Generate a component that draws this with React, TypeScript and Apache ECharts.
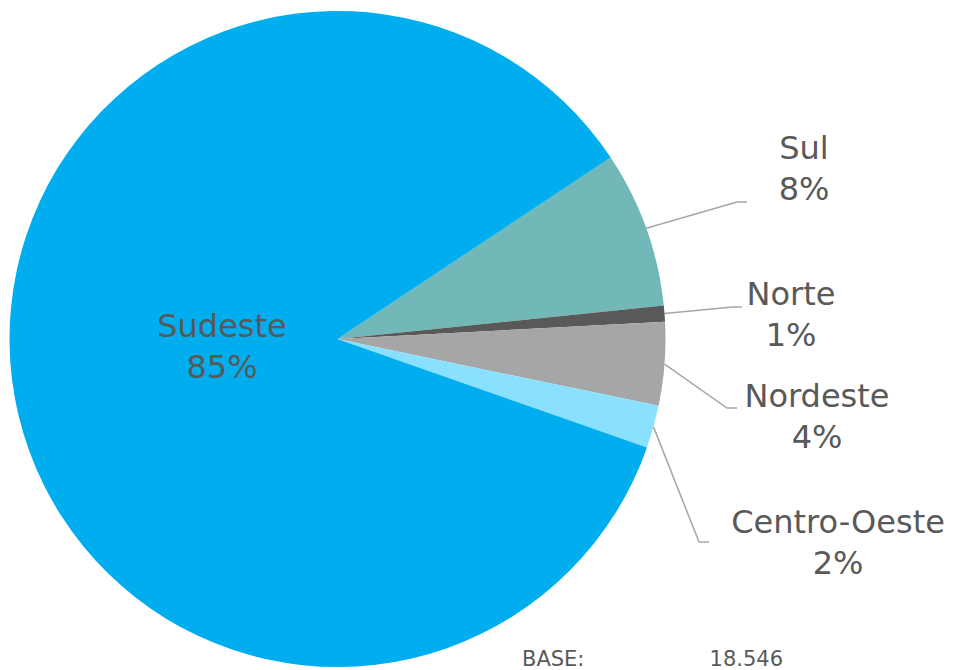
import React, { useEffect, useRef } from "react";
import * as echarts from "echarts";

// ---- data ----
const categories = ["Sul", "Norte", "Nordeste", "Centro-Oeste", "Sudeste"];
const shares = [7.7, 0.8, 4.1, 2.1, 85.3];
const sliceColors = ["#72B8B8", "#595959", "#A6A6A6", "#8AE1FF", "#00AEEF"];
const baseLabel = "BASE:";
const baseValue = "18.546";

// ---- layout (label centres and leader-line bends, px) ----
const labelSpots: Record<string, { x: number; y: number; bend?: number[]; end?: number[] }> = {
  Sul: { x: 804, y: 168, bend: [737, 202], end: [747, 202] },
  Norte: { x: 791, y: 314, bend: [733, 307], end: [742, 307] },
  Nordeste: { x: 817, y: 416, bend: [727, 408], end: [737, 408] },
  "Centro-Oeste": { x: 838, y: 542, bend: [699, 542], end: [709, 542] },
  Sudeste: { x: 222, y: 346 },
};

const FONT = "'DejaVu Sans', sans-serif";
const TEXT = "#595959";

export default function App() {
  const ref = useRef<HTMLDivElement>(null);
  useEffect(() => {
    if (!ref.current) return;
    const chart = echarts.init(ref.current, null, { renderer: "svg" });
    const data = categories.map((name, i) => ({
      name,
      value: shares[i],
      itemStyle: { color: sliceColors[i] },
      labelLine: { show: name !== "Sudeste" },
    }));
    chart.setOption({
      animation: false,
      backgroundColor: "#ffffff",
      series: [
        {
          type: "pie",
          center: [337.5, 339],
          radius: 328,
          startAngle: 33.6,
          clockwise: true,
          avoidLabelOverlap: false,
          data,
          itemStyle: { borderWidth: 0 },
          label: {
            show: true,
            position: "outside",
            color: TEXT,
            fontFamily: FONT,
            fontSize: 32,
            lineHeight: 41,
            formatter: (p: any) => `${p.name}\n${Math.round(p.percent)}%`,
          },
          labelLine: {
            show: true,
            length: 20,
            length2: 10,
            lineStyle: { color: "#A6A6A6", width: 1.5 },
          },
          labelLayout: (params: any) => {
            const name = categories[params.dataIndex];
            const s = labelSpots[name];
            const out: any = { x: s.x, y: s.y, align: "center", verticalAlign: "middle" };
            if (s.bend && s.end) {
              const start =
                params.labelLinePoints && params.labelLinePoints[0]
                  ? params.labelLinePoints[0]
                  : s.bend;
              out.labelLinePoints = [start, s.bend, s.end];
            }
            return out;
          },
        },
      ],
      graphic: [
        {
          type: "text",
          x: 522,
          y: 659,
          style: {
            text: baseLabel,
            fill: TEXT,
            font: `21px ${FONT}`,
            align: "left",
            verticalAlign: "middle",
          },
        },
        {
          type: "text",
          x: 783,
          y: 659,
          style: {
            text: baseValue,
            fill: TEXT,
            font: `21px ${FONT}`,
            align: "right",
            verticalAlign: "middle",
          },
        },
      ],
    });
    return () => chart.dispose();
  }, []);
  return (
    <div
      ref={ref}
      style={{ position: "absolute", left: 0, top: 0, width: 954, height: 670 }}
    />
  );
}
